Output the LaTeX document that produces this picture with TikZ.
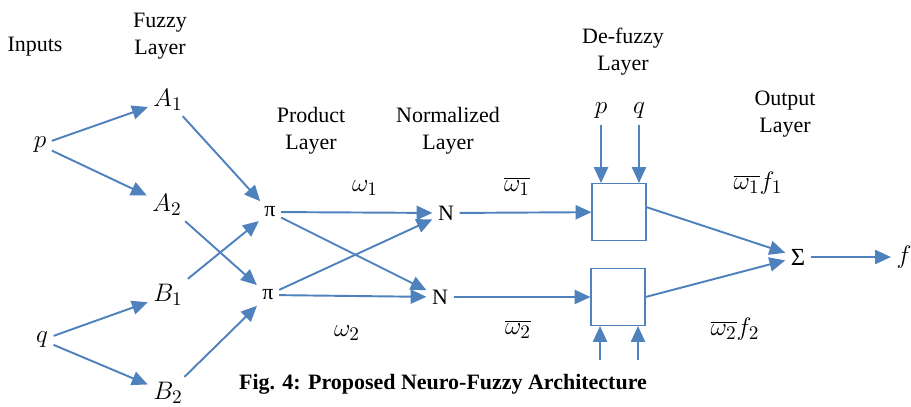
\documentclass[tikz,border=0pt]{standalone}
\usepackage{fontspec}
\setmainfont{Liberation Serif}
\usetikzlibrary{arrows.meta}
\definecolor{netblue}{RGB}{79,129,189}

\begin{document}
\begin{tikzpicture}[x=0.02cm, y=-0.02cm, font=\fontsize{12.5}{15.5}\selectfont,
    link/.style={draw=netblue, line width=1.1pt, -{Triangle[length=9pt,width=8pt]}},
    layer/.style={align=center},
    sym/.style={inner sep=3pt},
    mathbig/.style={font=\fontsize{15}{18}\selectfont},
    defuzz/.style={draw=netblue, line width=0.6pt, minimum width=1.08cm, minimum height=1.14cm}]
    \useasboundingbox (0,0) rectangle (911,406);
    % layer titles
    \node[layer] (tin) at (35,47) {Inputs};
    \node[layer] (tfz) at (160,36) {Fuzzy\\Layer};
    \node[layer] (tpr) at (311,131) {Product\\Layer};
    \node[layer] (tnm) at (448,131) {Normalized\\Layer};
    \node[layer] (tdf) at (623,52) {De-fuzzy\\Layer};
    \node[layer] (tout) at (785,114) {Output\\Layer};
    % nodes of the network
    \node[sym, mathbig] (p) at (40,145) {$p$};
    \node[sym, mathbig] (q) at (42,340) {$q$};
    \node[sym, mathbig] (A1) at (168,100) {$A_1$};
    \node[sym, mathbig] (A2) at (167,205) {$A_2$};
    \node[sym, mathbig] (B1) at (168,295) {$B_1$};
    \node[sym, mathbig] (B2) at (168,393) {$B_2$};
    \node[sym] (pi1) at (270,212) {π};
    \node[sym] (pi2) at (268,295) {π};
    \node[sym] (N1) at (446,213) {N};
    \node[sym] (N2) at (440,297) {N};
    \node[defuzz] (box1) at (619,212) {};
    \node[defuzz] (box2) at (618,297) {};
    \node[sym, font=\fontsize{14}{16}\selectfont] (sigma) at (798,257) {Σ};
    \node[sym, mathbig] (f) at (904,257) {$f$};
    \node[sym, mathbig] (p2) at (601,111) {$p$};
    \node[sym, mathbig] (q2) at (639,111) {$q$};
    \coordinate (pin) at (600,360);
    \coordinate (qin) at (638,360);
    % connectors
    \draw[link] (p) -- (A1);
    \draw[link] (p) -- (A2);
    \draw[link] (q) -- (B1);
    \draw[link] (q) -- (B2);
    \draw[link] (A1) -- (pi1);
    \draw[link] (B1) -- (pi1);
    \draw[link] (A2) -- (pi2);
    \draw[link] (B2) -- (pi2);
    \draw[link] (pi1) -- (N1);
    \draw[link] (pi1) -- (N2);
    \draw[link] (pi2) -- (N1);
    \draw[link] (pi2) -- (N2);
    \draw[link] (N1) -- (box1);
    \draw[link] (N2) -- (box2);
    \draw[link] (p2) -- (p2 |- box1.north);
    \draw[link] (q2) -- (q2 |- box1.north);
    \draw[link] (pin) -- (pin |- box2.south);
    \draw[link] (qin) -- (qin |- box2.south);
    \draw[link] (box1.10) -- (sigma);
    \draw[link] (box2.east) -- (sigma);
    \draw[link] (sigma) -- (f);
    % weights
    \node[mathbig] (w1) at (365,188) {$\omega_1$};
    \node[mathbig] (w2) at (347,333) {$\omega_2$};
    \node[mathbig] (nw1) at (517,186) {$\overline{\omega_1}$};
    \node[mathbig] (nw2) at (518,329) {$\overline{\omega_2}$};
    \node[mathbig] (wf1) at (758,183) {$\overline{\omega_1}f_1$};
    \node[mathbig] (wf2) at (735,329) {$\overline{\omega_2}f_2$};
    % caption
    \node[font=\fontsize{12.5}{15}\selectfont\bfseries] (cap) at (443,384) {Fig. 4: Proposed Neuro-Fuzzy Architecture};
\end{tikzpicture}
\end{document}
